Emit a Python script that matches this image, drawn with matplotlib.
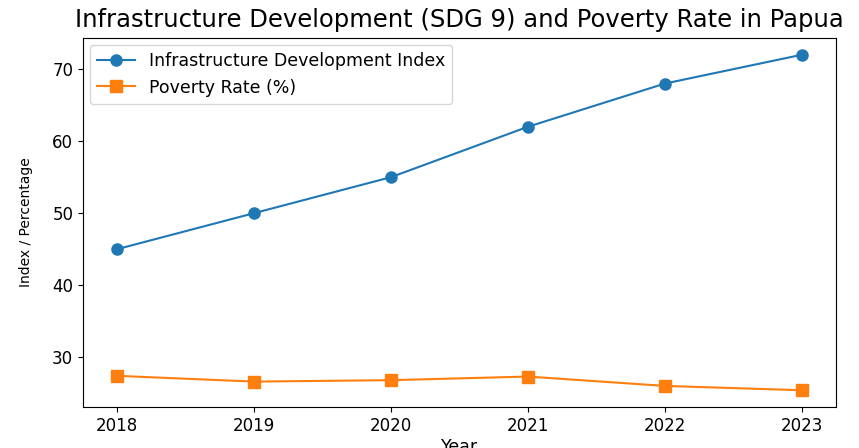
import matplotlib.pyplot as plt

years = [2018, 2019, 2020, 2021, 2022, 2023]
infra_index = [45, 50, 55, 62, 68, 72]
poverty_rate = [27.4, 26.6, 26.8, 27.3, 26.0, 25.4]

fig = plt.figure(figsize=(8.59, 4.48), dpi=100)
ax = fig.add_axes([0.0966, 0.0915, 0.8766, 0.8237])

ax.plot(years, infra_index, marker='o', markersize=8, linewidth=1.5, label='Infrastructure Development Index')
ax.plot(years, poverty_rate, marker='s', markersize=8, linewidth=1.5, label='Poverty Rate (%)')

ax.set_title('Infrastructure Development (SDG 9) and Poverty Rate in Papua', fontsize=17.5, pad=8)
ax.set_xlabel('Year', fontsize=12.5, labelpad=2)
ax.set_ylabel('Index / Percentage', fontsize=10, labelpad=14)
ax.set_xticks(years)
ax.tick_params(labelsize=12)
ax.legend(loc='upper left', fontsize=12.5, borderaxespad=0.4, handlelength=2.2)

fig.savefig('out.png', dpi=100)
